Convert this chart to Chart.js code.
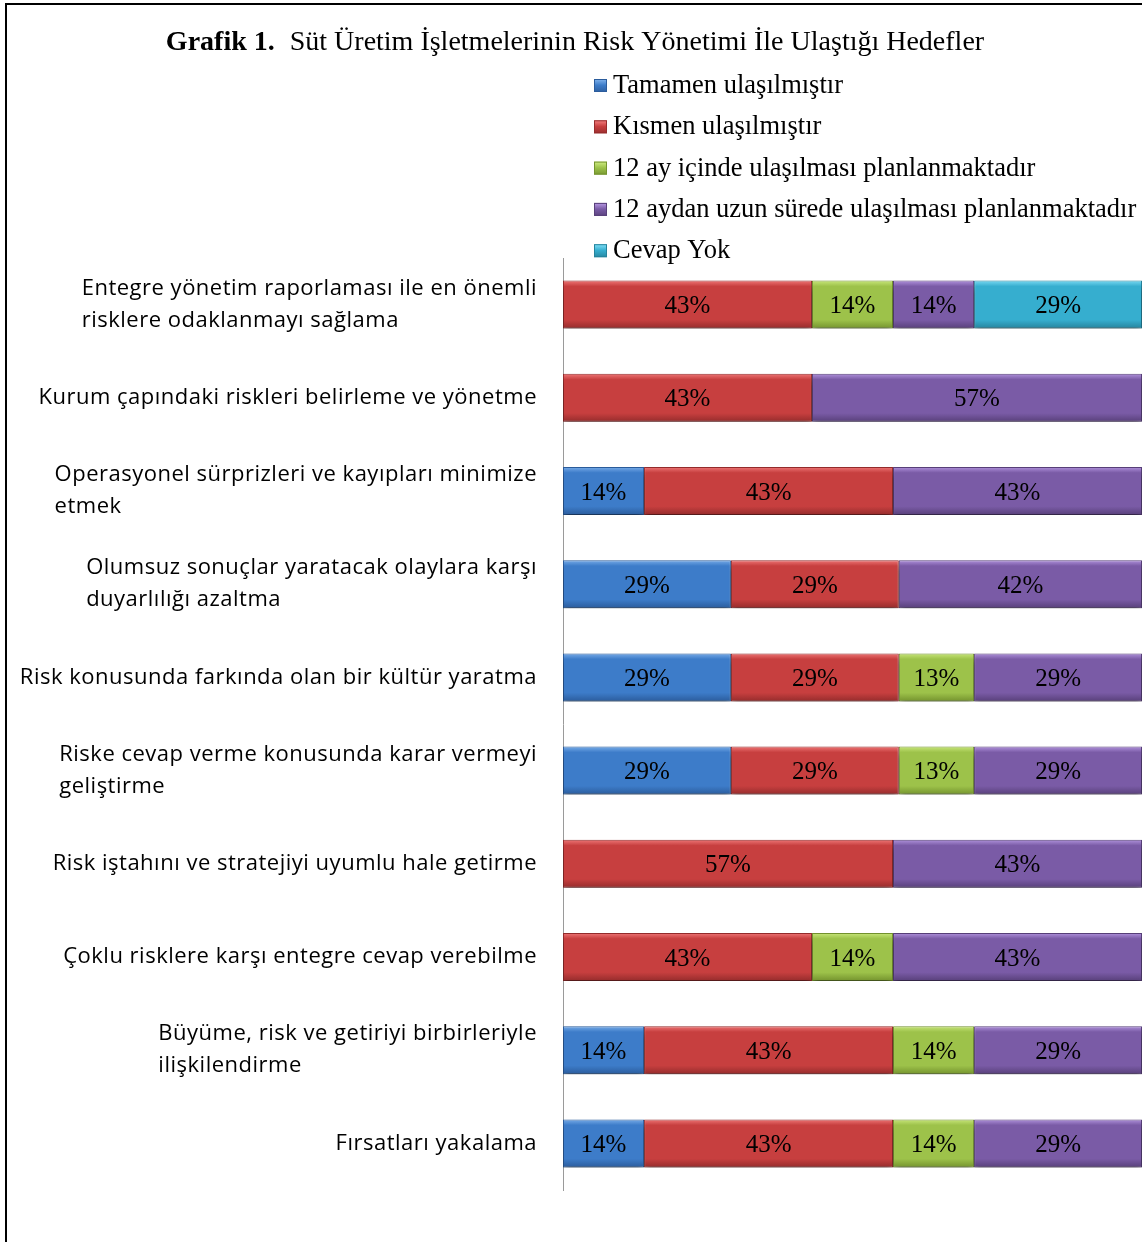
<!DOCTYPE html>
<html>
<head>
<meta charset="utf-8">
<script src="https://cdn.jsdelivr.net/npm/chart.js@4"></script>
<style>
  body { margin: 0; background: #fff; }
  #wrap { position: relative; width: 1142px; height: 1242px; }
</style>
</head>
<body>
<div id="wrap"><canvas id="riskchart"></canvas></div>
<script>
const categories = [
  ["Entegre yönetim raporlaması ile en önemli", "risklere odaklanmayı sağlama"],
  ["Kurum çapındaki riskleri belirleme ve yönetme"],
  ["Operasyonel sürprizleri ve kayıpları minimize", "etmek"],
  ["Olumsuz sonuçlar yaratacak olaylara karşı", "duyarlılığı azaltma"],
  ["Risk konusunda farkında olan bir kültür yaratma"],
  ["Riske cevap verme konusunda karar vermeyi", "geliştirme"],
  ["Risk iştahını ve stratejiyi uyumlu hale getirme"],
  ["Çoklu risklere karşı entegre cevap verebilme"],
  ["Büyüme, risk ve getiriyi birbirleriyle", "ilişkilendirme"],
  ["Fırsatları yakalama"],
];

const tamamen = [0, 0, 14, 29, 29, 29, 0, 0, 14, 14];
const kismen = [43, 43, 43, 29, 29, 29, 57, 43, 43, 43];
const ay12Icinde = [14, 0, 0, 0, 13, 13, 0, 14, 14, 14];
const ay12Uzun = [14, 57, 43, 42, 29, 29, 43, 43, 29, 29];
const cevapYok = [29, 0, 0, 0, 0, 0, 0, 0, 0, 0];

const titleBold = "Grafik 1.";
const titleText = "Süt Üretim İşletmelerinin Risk Yönetimi İle Ulaştığı Hedefler";

const serif = '"Liberation Serif", "Times New Roman", serif';
const sans = '"Open Sans", sans-serif';

// base, light top, dark bottom
const palette = [
  ["#3d7cc9", "#78ace8", "#2b5c9c"],
  ["#c73f3f", "#ee7676", "#952c2c"],
  ["#9dc24a", "#c8e67a", "#74932e"],
  ["#7a5ba6", "#b092dc", "#58407a"],
  ["#36aecf", "#78d9f2", "#25839c"],
];

function fillFor(k) {
  return function (c) {
    const chart = c.chart;
    const [base, light, dark] = palette[k];
    if (!chart.chartArea || c.dataIndex === undefined) return base;
    const y = chart.scales.y.getPixelForValue(c.dataIndex);
    const g = chart.ctx.createLinearGradient(0, y - 24, 0, y + 24);
    g.addColorStop(0, light);
    g.addColorStop(0.12, base);
    g.addColorStop(0.82, base);
    g.addColorStop(1, dark);
    return g;
  };
}

function makeSet(label, data, k) {
  return {
    label: label,
    data: data,
    backgroundColor: fillFor(k),
    borderColor: palette[k][2],
    borderWidth: 1,
    borderSkipped: false,
    categoryPercentage: 1,
    barPercentage: 0.515,
  };
}

const framePlugin = {
  id: "frame",
  beforeDraw(chart) {
    const ctx = chart.ctx;
    ctx.save();
    ctx.strokeStyle = "#000";
    ctx.lineWidth = 2;
    ctx.beginPath();
    ctx.moveTo(6, 1242);
    ctx.lineTo(6, 4);
    ctx.lineTo(1142, 4);
    ctx.stroke();
    ctx.restore();
  },
};

const titlePlugin = {
  id: "mixedTitle",
  afterDraw(chart) {
    const ctx = chart.ctx;
    ctx.save();
    ctx.fillStyle = "#000";
    ctx.textBaseline = "middle";
    ctx.font = "bold 28px " + serif;
    const wb = ctx.measureText(titleBold).width;
    ctx.font = "28px " + serif;
    const wt = ctx.measureText(titleText).width;
    const gap = 15;
    const x = 575 - (wb + gap + wt) / 2;
    ctx.font = "bold 28px " + serif;
    ctx.fillText(titleBold, x, 43);
    ctx.font = "28px " + serif;
    ctx.fillText(titleText, x + wb + gap, 43);
    ctx.restore();
  },
};

const legendPlugin = {
  id: "sideLegend",
  afterDraw(chart) {
    const ctx = chart.ctx;
    ctx.save();
    ctx.font = "26.5px " + serif;
    ctx.textBaseline = "middle";
    chart.data.datasets.forEach((ds, i) => {
      const y = 86 + i * 41.3;
      const [base, light, dark] = palette[i];
      const g = ctx.createLinearGradient(0, y - 6, 0, y + 7);
      g.addColorStop(0, light);
      g.addColorStop(0.4, base);
      g.addColorStop(1, dark);
      ctx.fillStyle = g;
      ctx.fillRect(594, y - 7, 13, 13);
      ctx.strokeStyle = dark;
      ctx.lineWidth = 1;
      ctx.strokeRect(594.5, y - 6.5, 12, 12);
      ctx.fillStyle = "#000";
      ctx.fillText(ds.label, 613, y);
    });
    ctx.restore();
  },
};

const yLabelPlugin = {
  id: "yLabels",
  afterDraw(chart) {
    const ctx = chart.ctx;
    const scale = chart.scales.y;
    ctx.save();
    ctx.font = "22px " + sans;
    ctx.letterSpacing = "0.5px";
    ctx.fillStyle = "#000";
    ctx.textBaseline = "middle";
    ctx.textAlign = "left";
    chart.data.labels.forEach((lines, i) => {
      const y = scale.getPixelForValue(i);
      const w = Math.max(...lines.map((s) => ctx.measureText(s).width));
      const x0 = chart.chartArea.left - 26 - w;
      const lh = 32;
      const top = y - ((lines.length - 1) * lh) / 2;
      lines.forEach((s, j) => ctx.fillText(s, x0, top + j * lh));
    });
    ctx.restore();
  },
};

const valuePlugin = {
  id: "values",
  beforeDatasetsDraw(chart) {
    const ctx = chart.ctx;
    ctx.save();
    ctx.shadowColor = "rgba(0,0,0,0.45)";
    ctx.shadowOffsetY = 6;
    ctx.shadowBlur = 7;
  },
  afterDatasetsDraw(chart) {
    const ctx = chart.ctx;
    ctx.restore();
    ctx.save();
    ctx.font = "25px " + serif;
    ctx.fillStyle = "#000";
    ctx.textAlign = "center";
    ctx.textBaseline = "middle";
    chart.data.datasets.forEach((ds, i) => {
      const meta = chart.getDatasetMeta(i);
      meta.data.forEach((el, j) => {
        const v = ds.data[j];
        if (!v) return;
        const p = el.getProps(["x", "y", "base"], true);
        ctx.fillText(v + "%", (p.x + p.base) / 2, p.y + 2);
      });
    });
    ctx.restore();
  },
};

new Chart(document.getElementById("riskchart"), {
  type: "bar",
  data: {
    labels: categories,
    datasets: [
      makeSet("Tamamen ulaşılmıştır", tamamen, 0),
      makeSet("Kısmen ulaşılmıştır", kismen, 1),
      makeSet("12 ay içinde ulaşılması planlanmaktadır", ay12Icinde, 2),
      makeSet("12 aydan uzun sürede ulaşılması planlanmaktadır", ay12Uzun, 3),
      makeSet("Cevap Yok", cevapYok, 4),
    ],
  },
  options: {
    indexAxis: "y",
    responsive: true,
    maintainAspectRatio: false,
    animation: false,
    layout: {
      padding: { top: 258, bottom: 52, left: 0, right: 0 },
    },
    scales: {
      x: {
        stacked: true,
        min: 0,
        max: 100,
        display: false,
      },
      y: {
        stacked: true,
        grid: { display: false },
        border: { display: true, color: "#9a9a9a", width: 1 },
        ticks: { display: false },
        afterFit(scale) {
          scale.width = 563;
        },
      },
    },
    plugins: {
      legend: { display: false },
      tooltip: { enabled: false },
    },
  },
  plugins: [framePlugin, titlePlugin, legendPlugin, yLabelPlugin, valuePlugin],
});
</script>
</body>
</html>
